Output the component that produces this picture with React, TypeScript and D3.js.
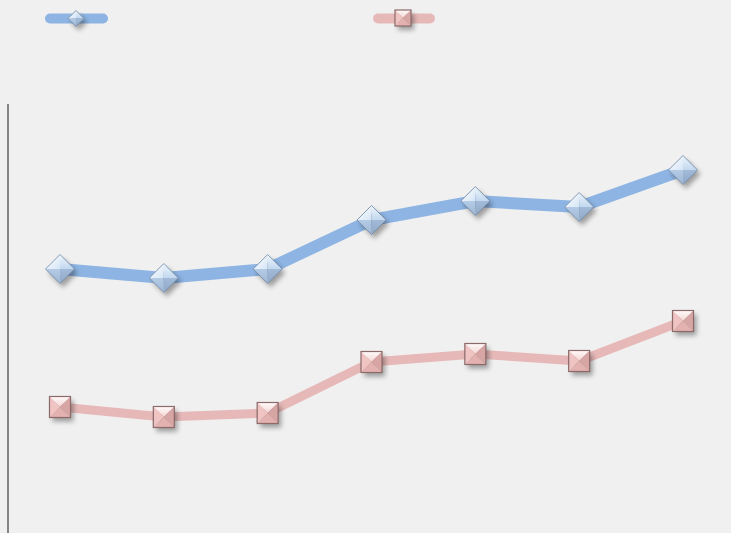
import React from "react";
import * as d3 from "d3";

const categories = ["1", "2", "3", "4", "5", "6", "7"];
const seriesA = [66.4, 64.6, 66.4, 76.2, 80.0, 78.8, 86.2];
const seriesB = [38.8, 36.8, 37.6, 47.8, 49.4, 48.0, 56.0];

const W = 731;
const H = 533;

export default function App() {
  const x = d3.scalePoint<string>().domain(categories).range([60, 683]);
  const y = d3.scaleLinear().domain([0, 100]).range([601, 101]);
  const line = d3
    .line<number>()
    .x((_, i) => x(categories[i]) as number)
    .y((d) => y(d));

  const diamond = (cx: number, cy: number, r: number, key: string) => (
    <g key={key} transform={`translate(${cx},${cy})`}>
      <path d={`M0,${-r}L${r},0L0,${r}L${-r},0Z`} fill="#000" opacity={0.35} transform="translate(3,4)" filter="url(#blur)" />
      <path d={`M0,${-r}L${-r},0L0,0Z`} fill="url(#dTL)" />
      <path d={`M0,${-r}L${r},0L0,0Z`} fill="url(#dTR)" />
      <path d={`M${-r},0L0,${r}L0,0Z`} fill="url(#dBL)" />
      <path d={`M${r},0L0,${r}L0,0Z`} fill="url(#dBR)" />
      <path d={`M0,${-r}L${r},0L0,${r}L${-r},0Z`} fill="none" stroke="#7890ab" strokeWidth={0.9} />
    </g>
  );

  const square = (cx: number, cy: number, h: number, key: string) => (
    <g key={key} transform={`translate(${cx},${cy})`}>
      <rect x={-h} y={-h} width={2 * h} height={2 * h} fill="#000" opacity={0.35} transform="translate(3,4)" filter="url(#blur)" />
      <path d={`M${-h},${-h}L${h},${-h}L0,0Z`} fill="url(#sT)" />
      <path d={`M${-h},${-h}L${-h},${h}L0,0Z`} fill="#efc4c3" />
      <path d={`M${h},${-h}L${h},${h}L0,0Z`} fill="#d6a5a4" />
      <path d={`M${-h},${h}L${h},${h}L0,0Z`} fill="#e2b1b0" />
      <rect x={-h} y={-h} width={2 * h} height={2 * h} fill="none" stroke="#8c6a6a" strokeWidth={1.2} />
    </g>
  );

  return (
    <svg width={W} height={H} style={{ position: "absolute", left: 0, top: 0, background: "#f0f0f0" }}>
      <defs>
        <filter id="blur" x="-50%" y="-50%" width="200%" height="200%">
          <feGaussianBlur stdDeviation="2.5" />
        </filter>
        <linearGradient id="dTL" x1="0" y1="0" x2="1" y2="1">
          <stop offset="0" stopColor="#ffffff" />
          <stop offset="1" stopColor="#d6e6f6" />
        </linearGradient>
        <linearGradient id="dTR" x1="0" y1="0" x2="0" y2="1">
          <stop offset="0" stopColor="#eef5fc" />
          <stop offset="1" stopColor="#c2d8ef" />
        </linearGradient>
        <linearGradient id="dBL" x1="0" y1="0" x2="0" y2="1">
          <stop offset="0" stopColor="#b4cbe6" />
          <stop offset="1" stopColor="#9fb7d4" />
        </linearGradient>
        <linearGradient id="dBR" x1="0" y1="0" x2="0" y2="1">
          <stop offset="0" stopColor="#a3bbd8" />
          <stop offset="1" stopColor="#8ea8c8" />
        </linearGradient>
        <linearGradient id="sT" x1="0" y1="0" x2="0" y2="1">
          <stop offset="0" stopColor="#fffafa" />
          <stop offset="1" stopColor="#f4d6d5" />
        </linearGradient>
      </defs>
      <rect width={W} height={H} fill="#f0f0f0" />
      <line x1={8} x2={8} y1={104} y2={H} stroke="#858585" strokeWidth={2} />

      <path d={line(seriesB) || ""} fill="none" stroke="#e6b9b8" strokeWidth={9} strokeLinejoin="round" />
      <path d={line(seriesA) || ""} fill="none" stroke="#8db4e3" strokeWidth={12} strokeLinejoin="round" />

      {seriesB.map((v, i) => square(x(categories[i]) as number, y(v), 10.5, "s" + i))}
      {seriesA.map((v, i) => diamond(x(categories[i]) as number, y(v), 14.5, "d" + i))}

      <line x1={50} x2={103} y1={18.5} y2={18.5} stroke="#8db4e3" strokeWidth={10} strokeLinecap="round" />
      {diamond(76, 18.5, 8, "ld")}
      <line x1={378} x2={430} y1={18.5} y2={18.5} stroke="#e6b9b8" strokeWidth={10} strokeLinecap="round" />
      {square(403, 18, 8, "ls")}
    </svg>
  );
}
